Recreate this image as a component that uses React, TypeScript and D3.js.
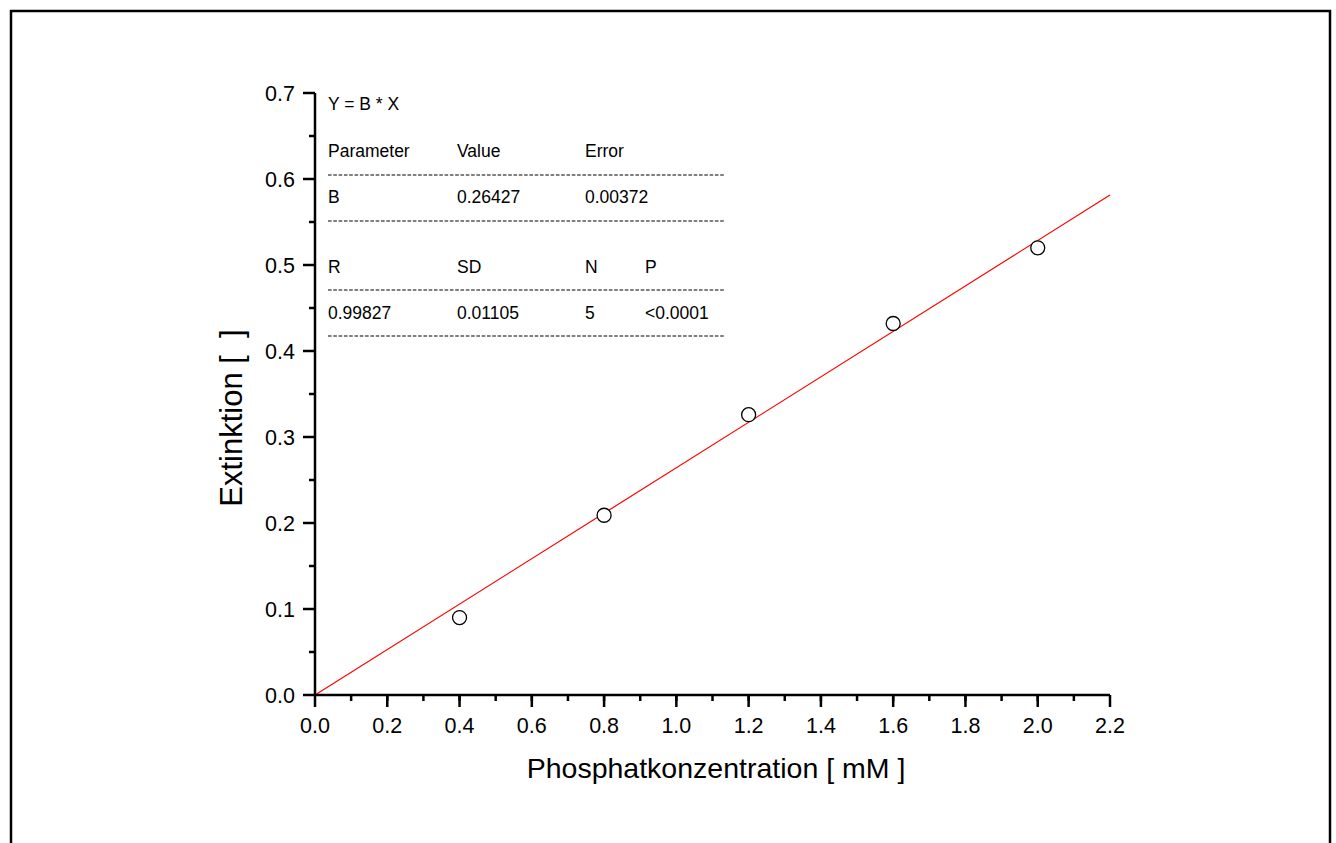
import React from 'react';
import { scaleLinear, range } from 'd3';

const xValues = [0.4, 0.8, 1.2, 1.6, 2.0];
const yValues = [0.09, 0.209, 0.326, 0.432, 0.52];
const slope = 0.26427;
const xTicks = [0, 0.2, 0.4, 0.6, 0.8, 1.0, 1.2, 1.4, 1.6, 1.8, 2.0, 2.2];
const yTicks = [0, 0.1, 0.2, 0.3, 0.4, 0.5, 0.6, 0.7];
const fitTitle = 'Y = B * X';
const paramHeader = ['Parameter', 'Value', 'Error'];
const paramRow = ['B', '0.26427', '0.00372'];
const statHeader = ['R', 'SD', 'N', 'P'];
const statRow = ['0.99827', '0.01105', '5', '<0.0001'];

const W = 1336;
const H = 843;
const font = '"Liberation Sans", Arial, sans-serif';

export default function App() {
  const x = scaleLinear().domain([0, 2.2]).range([315, 1110]);
  const y = scaleLinear().domain([0, 0.7]).range([695, 93]);

  const xMinor = range(0, 22).map(i => i * 0.1 + 0.1).filter(v => v < 2.2);
  const yMinor = range(0, 7).map(i => i * 0.1 + 0.05);

  const colX = [328, 457, 585, 645];
  const dashLine = (yy: number) => (
    <line x1={328} x2={725} y1={yy} y2={yy} stroke="#000" strokeWidth={1} strokeDasharray="3.6 1.7" />
  );
  const row = (items: string[], yy: number) =>
    items.map((t, i) => (
      <text key={t + i} x={colX[i]} y={yy} fontSize={17.5}>{t}</text>
    ));

  return (
    <svg width={W} height={H} style={{ position: 'absolute', left: 0, top: 0, background: '#fff' }} fontFamily={font}>
      <rect x={11} y={11} width={1319} height={900} fill="none" stroke="#000" strokeWidth={2.5} />

      {/* fit line */}
      <line x1={x(0)} y1={y(0)} x2={x(2.2)} y2={y(slope * 2.2)} stroke="#ff0000" strokeWidth={1.2} />

      {/* axes */}
      <line x1={x(0)} x2={x(2.2)} y1={y(0)} y2={y(0)} stroke="#000" strokeWidth={2.5} />
      <line x1={x(0)} x2={x(0)} y1={y(0)} y2={y(0.7)} stroke="#000" strokeWidth={2.5} />
      {xTicks.map(t => (
        <g key={'xt' + t}>
          <line x1={x(t)} x2={x(t)} y1={y(0)} y2={y(0) + 12} stroke="#000" strokeWidth={2.5} />
          <text x={x(t)} y={733} fontSize={21.5} textAnchor="middle">{t.toFixed(1)}</text>
        </g>
      ))}
      {xMinor.map(t => (
        <line key={'xm' + t} x1={x(t)} x2={x(t)} y1={y(0)} y2={y(0) + 6} stroke="#000" strokeWidth={2.5} />
      ))}
      {yTicks.map(t => (
        <g key={'yt' + t}>
          <line x1={x(0) - 12} x2={x(0)} y1={y(t)} y2={y(t)} stroke="#000" strokeWidth={2.5} />
          <text x={295} y={y(t) + 7.5} fontSize={21.5} textAnchor="end">{t.toFixed(1)}</text>
        </g>
      ))}
      {yMinor.map(t => (
        <line key={'ym' + t} x1={x(0) - 6} x2={x(0)} y1={y(t)} y2={y(t)} stroke="#000" strokeWidth={2.5} />
      ))}

      {/* data points */}
      {xValues.map((v, i) => (
        <circle key={'p' + i} cx={x(v)} cy={y(yValues[i])} r={7} fill="#fff" stroke="#000" strokeWidth={1.3} />
      ))}

      {/* fit table */}
      <text x={328} y={110} fontSize={17.5}>{fitTitle}</text>
      {row(paramHeader, 157)}
      {dashLine(175)}
      {row(paramRow, 203)}
      {dashLine(221)}
      {row(statHeader, 273)}
      {dashLine(290)}
      {row(statRow, 319)}
      {dashLine(336)}

      {/* axis titles */}
      <text x={716} y={778} fontSize={28.5} textAnchor="middle">Phosphatkonzentration [ mM ]</text>
      <text transform="translate(242,418) rotate(-90)" fontSize={31} textAnchor="middle" style={{ whiteSpace: 'pre' }}>Extinktion [  ]</text>
    </svg>
  );
}
